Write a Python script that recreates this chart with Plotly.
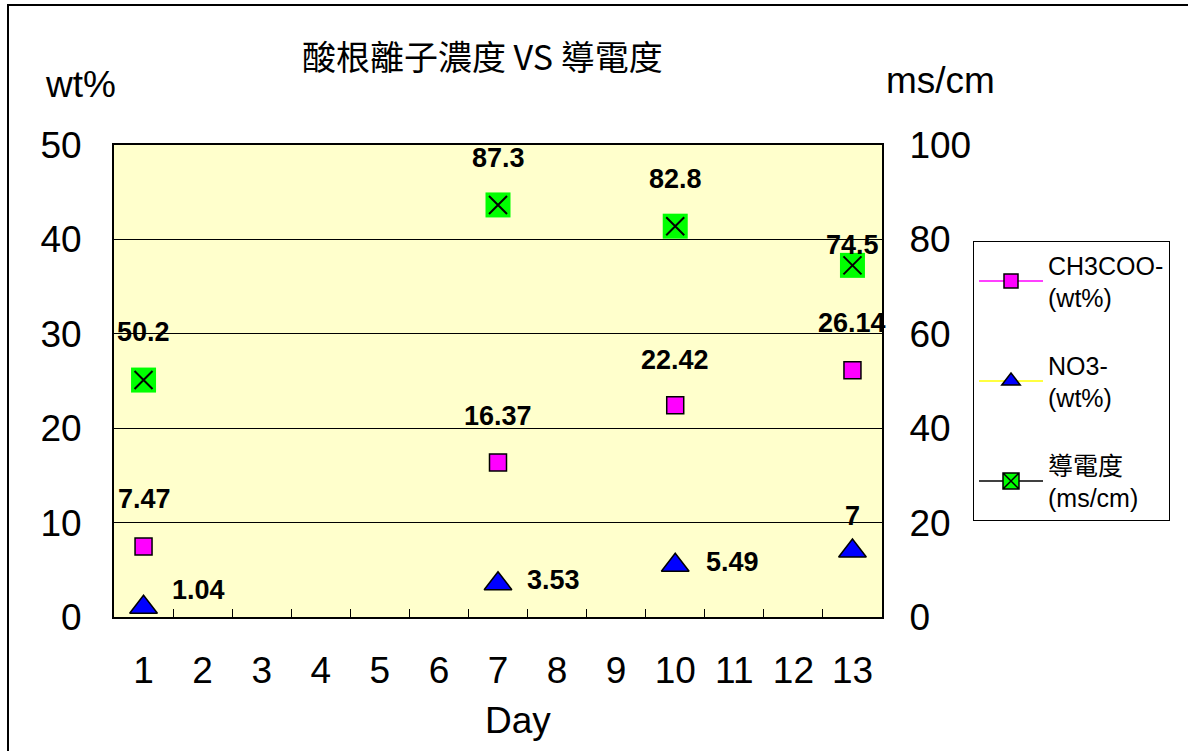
import plotly.graph_objects as go

# ---- data ----
categories = [str(i) for i in range(1, 14)]
days = ["1", "7", "10", "13"]
ch3coo = [7.47, 16.37, 22.42, 26.14]
no3 = [1.04, 3.53, 5.49, 7.0]
conductivity = [50.2, 87.3, 82.8, 74.5]
ch3coo_labels = ["7.47", "16.37", "22.42", "26.14"]
no3_labels = ["1.04", "3.53", "5.49", "7"]
cond_labels = ["50.2", "87.3", "82.8", "74.5"]

title_text = "酸根離子濃度 VS 導電度"
legend_names = ["CH3COO-<br>(wt%)", "NO3-<br>(wt%)", "導電度<br>(ms/cm)"]

# label offsets (pixels) - styling only
ch3_off = [(1, 47), (0, 46), (0, 45), (0, 47)]
no3_off = [(55, 17), (55, 4), (57, 3), (0, 35)]
cond_off = [(0, 48), (0, 47), (0, 47), (0, 20)]

FONT = "Liberation Sans, Arial, sans-serif"
CJK = "Noto Sans CJK TC, Noto Sans CJK SC, sans-serif"

W, H = 1188, 751
PL, PR, PT, PB = 114, 882, 145, 617  # plot area in page pixels
L, T = PL, PT
R, B = W - PR, H - PB
PW, PH = PR - PL, PB - PT


def px(xp):
    return (xp - PL) / PW


def py(yp):
    return (PB - yp) / PH


def cidx(d):
    return categories.index(d)


fig = go.Figure()

fig.add_trace(go.Scatter(
    x=days, y=ch3coo, mode="markers", showlegend=False,
    marker=dict(symbol="square", size=17, color="#FF00FF", line=dict(color="black", width=1.5)),
))
fig.add_trace(go.Scatter(
    x=days, y=no3, mode="markers", showlegend=False,
    marker=dict(symbol="triangle-up", size=24, color="#0000FF", line=dict(color="black", width=1.5)),
))
fig.add_trace(go.Scatter(
    x=days, y=conductivity, mode="markers", showlegend=False, yaxis="y2",
    marker=dict(symbol="square", size=25, color="#00FF00", line=dict(width=0)),
))
fig.add_trace(go.Scatter(
    x=days, y=conductivity, mode="markers", showlegend=False, yaxis="y2",
    marker=dict(symbol="x-thin-open", size=18, color="black", line=dict(color="black", width=2)),
))

# legend-only traces
fig.add_trace(go.Scatter(
    x=[None], y=[None], mode="lines+markers", name=legend_names[0], legendgroup="a",
    line=dict(color="#FF00FF", width=1.5),
    marker=dict(symbol="square", size=14, color="#FF00FF", line=dict(color="black", width=1.5)),
))
fig.add_trace(go.Scatter(
    x=[None], y=[None], mode="lines+markers", name=legend_names[1], legendgroup="b",
    line=dict(color="#FFFF00", width=1.5),
    marker=dict(symbol="triangle-up", size=17, color="#0000FF", line=dict(color="black", width=1.5)),
))
fig.add_trace(go.Scatter(
    x=[None], y=[None], mode="lines+markers", name=legend_names[2], legendgroup="c",
    line=dict(color="black", width=1.5),
    marker=dict(symbol="square-x", size=18, color="#00FF00", line=dict(color="black", width=1.5)),
))

ann = []
lab_font = dict(family=FONT, size=27, color="black")
for d, v, t, (dx, dy) in zip(days, ch3coo, ch3coo_labels, ch3_off):
    ann.append(dict(x=cidx(d), y=v, xref="x", yref="y", text=f"<b>{t}</b>", showarrow=False,
                    xanchor="center", yanchor="middle", xshift=dx, yshift=dy, font=lab_font))
for d, v, t, (dx, dy) in zip(days, no3, no3_labels, no3_off):
    ann.append(dict(x=cidx(d), y=v, xref="x", yref="y", text=f"<b>{t}</b>", showarrow=False,
                    xanchor="center", yanchor="middle", xshift=dx, yshift=dy, font=lab_font))
for d, v, t, (dx, dy) in zip(days, conductivity, cond_labels, cond_off):
    ann.append(dict(x=cidx(d), y=v, xref="x", yref="y2", text=f"<b>{t}</b>", showarrow=False,
                    xanchor="center", yanchor="middle", xshift=dx, yshift=dy, font=lab_font))

ann.append(dict(x=px(482), y=py(55), xref="paper", yref="paper", text=title_text, showarrow=False,
                xanchor="center", yanchor="middle", font=dict(family=CJK, size=34, color="black")))
ann.append(dict(x=px(80), y=py(85), xref="paper", yref="paper", text="wt%", showarrow=False,
                xanchor="center", yanchor="middle", font=dict(family=FONT, size=37, color="black")))
ann.append(dict(x=px(940), y=py(80), xref="paper", yref="paper", text="ms/cm", showarrow=False,
                xanchor="center", yanchor="middle", font=dict(family=FONT, size=37, color="black")))
ann.append(dict(x=px(518), y=py(720), xref="paper", yref="paper", text="Day", showarrow=False,
                xanchor="center", yanchor="middle", font=dict(family=FONT, size=37, color="black")))

fig.update_layout(
    width=W, height=H,
    margin=dict(l=L, r=R, t=T, b=B, autoexpand=False),
    paper_bgcolor="white",
    plot_bgcolor="#FFFFCC",
    font=dict(family=FONT, color="black"),
    annotations=ann,
    shapes=[dict(type="rect", xref="paper", yref="paper",
                 x0=px(8), x1=px(1200), y0=py(770), y1=py(5),
                 line=dict(color="black", width=2), fillcolor="rgba(0,0,0,0)", layer="below")],
    xaxis=dict(type="category", categoryorder="array", categoryarray=categories,
               range=[-0.5, 12.5], tickson="boundaries", ticks="inside", ticklen=8,
               tickcolor="black", showline=True, linecolor="black", linewidth=2, mirror=True,
               showgrid=False, tickfont=dict(size=37), ticklabelstandoff=20),
    yaxis=dict(range=[0, 50], dtick=10, showgrid=True, gridcolor="black", gridwidth=1,
               ticks="inside", ticklen=8, tickcolor="black", showline=True, linecolor="black",
               linewidth=2, zeroline=False, tickfont=dict(size=37), ticklabelstandoff=23),
    yaxis2=dict(range=[0, 100], dtick=20, overlaying="y", side="right", showgrid=False,
                ticks="inside", ticklen=8, tickcolor="black", showline=True, linecolor="black",
                linewidth=2, zeroline=False, tickfont=dict(size=37), ticklabelstandoff=18),
    legend=dict(x=px(973), y=py(241), xanchor="left", yanchor="top",
                bordercolor="black", borderwidth=1, bgcolor="white",
                font=dict(family=FONT + ", Noto Sans CJK TC", size=25, color="black"),
                tracegroupgap=32, itemwidth=64),
)

fig.write_html("out.html", config={"displayModeBar": False},
               post_script="document.body.style.margin='0';document.body.style.overflow='hidden';")
